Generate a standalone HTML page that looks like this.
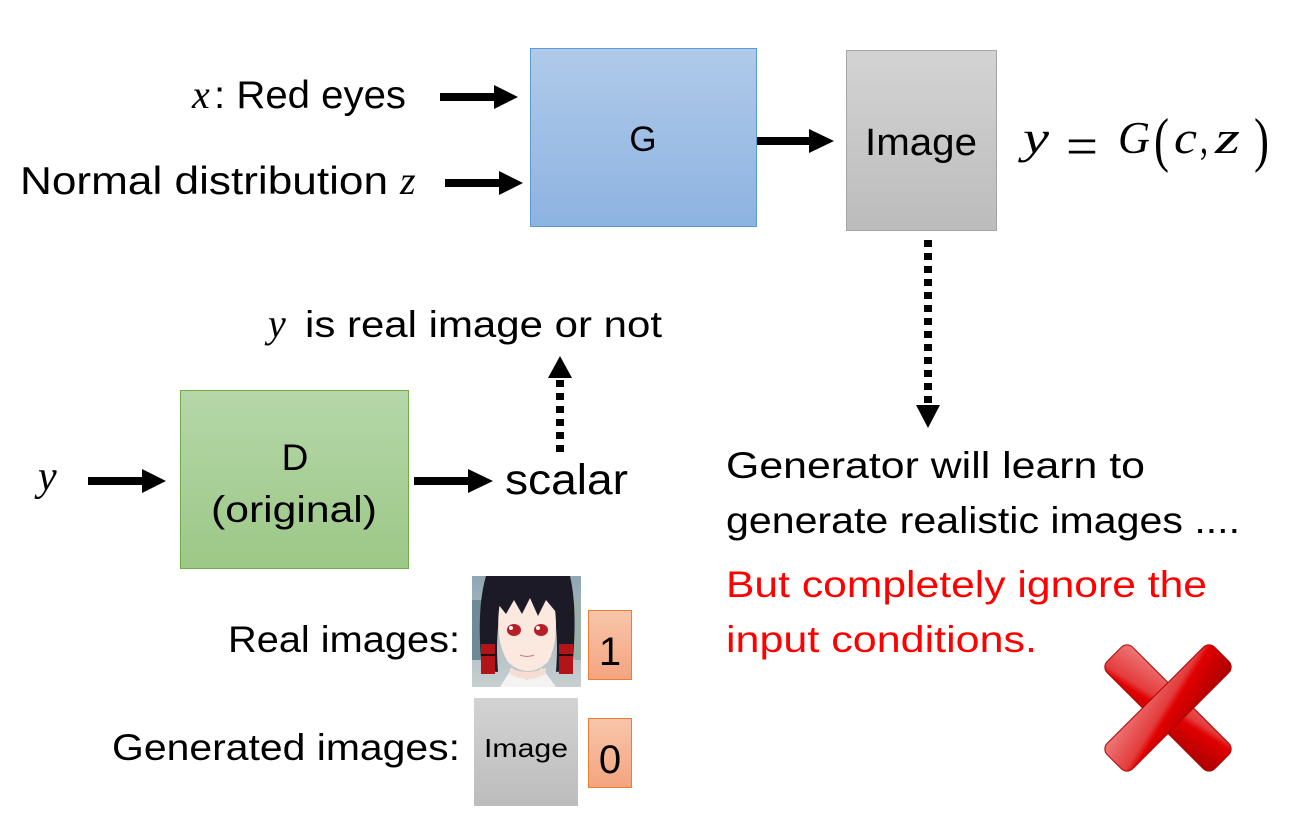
<!DOCTYPE html>
<html><head><meta charset="utf-8"><style>
html,body{margin:0;padding:0;background:#fff;}
svg{display:block;}
.c{font-family:"Liberation Sans",sans-serif;fill:#000;}
.m{font-family:"Liberation Serif",serif;font-style:italic;fill:#000;}
.n{font-family:"Liberation Serif",serif;fill:#000;}
</style></head><body>
<svg width="1302" height="824" viewBox="0 0 1302 824" xmlns="http://www.w3.org/2000/svg">
<defs>
<linearGradient id="gb" x1="0" y1="0" x2="0" y2="1"><stop offset="0" stop-color="#b0cae9"/><stop offset="1" stop-color="#8db3e1"/></linearGradient>
<linearGradient id="gg" x1="0" y1="0" x2="0" y2="1"><stop offset="0" stop-color="#d3d3d3"/><stop offset="1" stop-color="#bcbcbc"/></linearGradient>
<linearGradient id="ggr" x1="0" y1="0" x2="0" y2="1"><stop offset="0" stop-color="#b6d7a9"/><stop offset="1" stop-color="#9cc887"/></linearGradient>
<linearGradient id="go" x1="0" y1="0" x2="0" y2="1"><stop offset="0" stop-color="#f8c6ab"/><stop offset="1" stop-color="#f4a47f"/></linearGradient>
<linearGradient id="gx" x1="0" y1="0" x2="1" y2="1"><stop offset="0" stop-color="#ee7a7a"/><stop offset="0.45" stop-color="#e43c3c"/><stop offset="0.55" stop-color="#e00000"/><stop offset="1" stop-color="#a80000"/></linearGradient>
<linearGradient id="gsky" x1="0" y1="0" x2="0" y2="1"><stop offset="0" stop-color="#8fa7b3"/><stop offset="1" stop-color="#c7cfd0"/></linearGradient>
</defs>

<!-- top inputs -->
<text class="m" x="192" y="108" font-size="40">x</text>
<text class="c" x="214" y="108" font-size="39" textLength="192" lengthAdjust="spacingAndGlyphs">: Red eyes</text>
<text class="c" x="20" y="194" font-size="39" textLength="368" lengthAdjust="spacingAndGlyphs">Normal distribution</text>
<text class="m" x="400" y="194" font-size="40">z</text>

<!-- arrows -->
<g fill="#000">
<rect x="440" y="93" width="56" height="8"/><polygon points="494,85 518,97 494,109"/>
<rect x="445" y="179" width="56" height="8"/><polygon points="499,171 523,183 499,195"/>
<rect x="755" y="137" width="56" height="8"/><polygon points="809,129 834,141 809,153"/>
<rect x="88" y="477" width="56" height="8"/><polygon points="142,469 166,481 142,493"/>
<rect x="414" y="477" width="56" height="8"/><polygon points="468,469 493,481 468,493"/>
</g>

<!-- G box -->
<rect x="530.5" y="48.5" width="226" height="178" fill="url(#gb)" stroke="#5b9bd5" stroke-width="1"/>
<text class="c" x="643" y="151" font-size="35" text-anchor="middle">G</text>

<!-- Image box -->
<rect x="846.5" y="50.5" width="150" height="180" fill="url(#gg)" stroke="#a5a5a5" stroke-width="1"/>
<text class="c" x="921" y="155" font-size="38" text-anchor="middle" textLength="112" lengthAdjust="spacingAndGlyphs">Image</text>

<!-- y = G(c, z) -->
<text class="m" x="1023" y="153" font-size="46" textLength="26" lengthAdjust="spacingAndGlyphs">y</text>
<text class="n" x="1066" y="165" font-size="56" textLength="32" lengthAdjust="spacingAndGlyphs">=</text>
<text class="m" x="1118" y="153" font-size="46" textLength="32" lengthAdjust="spacingAndGlyphs">G</text>
<text class="n" x="1154" y="160" font-size="60" textLength="15" lengthAdjust="spacingAndGlyphs">(</text>
<text class="m" x="1174" y="153" font-size="46" textLength="23" lengthAdjust="spacingAndGlyphs">c</text>
<text class="n" x="1200" y="153" font-size="46" textLength="8" lengthAdjust="spacingAndGlyphs">,</text>
<text class="m" x="1215" y="153" font-size="46" textLength="25" lengthAdjust="spacingAndGlyphs">z</text>
<text class="n" x="1254" y="160" font-size="60" textLength="15" lengthAdjust="spacingAndGlyphs">)</text>

<!-- dotted down arrow -->
<line x1="928" y1="240" x2="928" y2="404" stroke="#000" stroke-width="8" stroke-dasharray="7,6"/>
<polygon points="916,405 940,405 928,428" fill="#000"/>

<!-- y is real image or not -->
<text class="m" x="268" y="337" font-size="40">y</text>
<text class="c" x="305" y="337" font-size="37" textLength="357" lengthAdjust="spacingAndGlyphs">is real image or not</text>

<!-- dotted up arrow -->
<polygon points="560,356 548,378 572,378" fill="#000"/>
<line x1="560" y1="380" x2="560" y2="452" stroke="#000" stroke-width="8" stroke-dasharray="7,6"/>

<!-- D box -->
<rect x="180.5" y="390.5" width="228" height="178" fill="url(#ggr)" stroke="#70ad47" stroke-width="1"/>
<text class="c" x="295" y="470" font-size="37" text-anchor="middle">D</text>
<text class="c" x="294" y="522" font-size="37" text-anchor="middle" textLength="166" lengthAdjust="spacingAndGlyphs">(original)</text>

<text class="m" x="38" y="490" font-size="42">y</text>
<text class="c" x="505" y="494" font-size="43" textLength="123" lengthAdjust="spacingAndGlyphs">scalar</text>

<!-- right text -->
<text class="c" x="726" y="478" font-size="37" textLength="419" lengthAdjust="spacingAndGlyphs">Generator will learn to</text>
<text class="c" x="726" y="533" font-size="37" textLength="514" lengthAdjust="spacingAndGlyphs">generate realistic images ....</text>
<text class="c" x="726" y="597" font-size="37" style="fill:#ff0000" textLength="481" lengthAdjust="spacingAndGlyphs">But completely ignore the</text>
<text class="c" x="726" y="652" font-size="37" style="fill:#ff0000" textLength="311" lengthAdjust="spacingAndGlyphs">input conditions.</text>

<!-- Real / generated -->
<text class="c" x="228" y="652" font-size="37" textLength="232" lengthAdjust="spacingAndGlyphs">Real images:</text>
<text class="c" x="112" y="760" font-size="37" textLength="348" lengthAdjust="spacingAndGlyphs">Generated images:</text>

<!-- anime portrait approximation -->
<g>
<rect x="472" y="576" width="109" height="111" fill="url(#gsky)"/>
<rect x="472" y="600" width="16" height="60" fill="#6f8a93"/>
<rect x="566" y="600" width="15" height="60" fill="#9bb0a8"/>
<path d="M486,576 L570,576 Q578,610 572,670 L556,672 Q560,620 548,600 L506,600 Q494,620 498,672 L482,670 Q476,610 486,576 Z" fill="#1c1a26"/>
<path d="M500,602 Q527,592 554,602 Q560,640 548,662 Q528,680 508,662 Q494,640 500,602 Z" fill="#fbe8de"/>
<path d="M494,586 Q527,570 560,586 L556,612 L546,600 L538,616 L530,598 L522,614 L514,600 L506,614 L498,604 Z" fill="#1c1a26"/>
<ellipse cx="514" cy="630" rx="7" ry="6" fill="#b81e25"/>
<ellipse cx="541" cy="630" rx="7" ry="6" fill="#b81e25"/>
<ellipse cx="511" cy="628" rx="2" ry="2" fill="#fff"/>
<ellipse cx="538" cy="628" rx="2" ry="2" fill="#fff"/>
<path d="M520,655 Q527,658 534,655" stroke="#c08070" stroke-width="1" fill="none"/>
<rect x="481" y="644" width="14" height="30" fill="#b3141a"/>
<rect x="559" y="644" width="14" height="30" fill="#b3141a"/>
<line x1="481" y1="655" x2="495" y2="655" stroke="#2a0a0a" stroke-width="2"/>
<line x1="559" y1="655" x2="573" y2="655" stroke="#2a0a0a" stroke-width="2"/>
<path d="M500,687 L512,668 L527,680 L542,668 L556,687 Z" fill="#f4f2f2"/>
<path d="M510,668 Q527,676 546,668 L546,674 Q527,684 510,674 Z" fill="#f7ddd2"/>
</g>

<!-- small generated image -->
<rect x="474" y="698" width="104" height="108" fill="url(#gg)"/>
<text class="c" x="526" y="757" font-size="26" text-anchor="middle" textLength="84" lengthAdjust="spacingAndGlyphs">Image</text>

<!-- orange label boxes -->
<rect x="588.5" y="610.5" width="43" height="69" fill="url(#go)" stroke="#ed7d31" stroke-width="1"/>
<text class="c" x="610" y="665" font-size="40" text-anchor="middle">1</text>
<rect x="588.5" y="718.5" width="43" height="69" fill="url(#go)" stroke="#ed7d31" stroke-width="1"/>
<text class="c" x="610" y="773" font-size="40" text-anchor="middle">0</text>

<!-- red X -->
<g transform="translate(1168,708)">
<rect x="-76" y="-18" width="152" height="36" rx="8" fill="url(#gx)" transform="rotate(45)" stroke="#b00000" stroke-width="1"/>
<rect x="-76" y="-18" width="152" height="36" rx="8" fill="url(#gx)" transform="rotate(-45)" stroke="#b00000" stroke-width="1"/>
</g>
</svg>
</body></html>
